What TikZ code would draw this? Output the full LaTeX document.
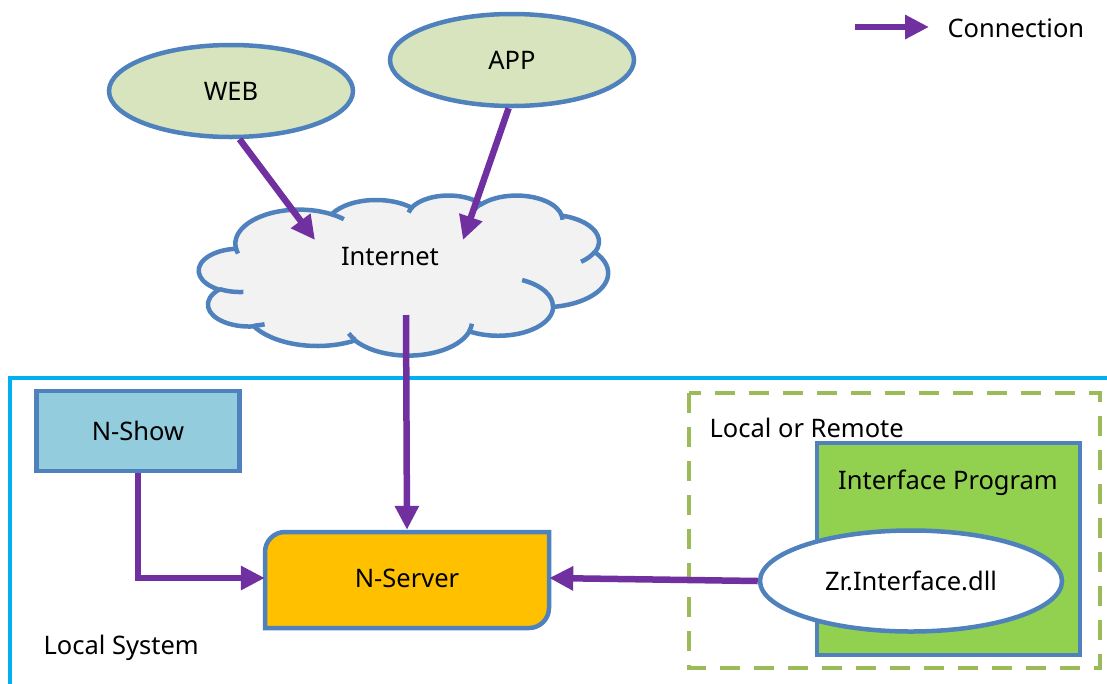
\documentclass[tikz,border=0pt]{standalone}
\usepackage{fontspec}
\setmainfont{Noto Sans}
\usetikzlibrary{arrows.meta,shapes.geometric}
\definecolor{bord}{RGB}{79,129,189}
\definecolor{conncol}{RGB}{112,48,160}
\definecolor{ovfill}{RGB}{215,228,189}
\definecolor{showfill}{RGB}{147,205,221}
\definecolor{srvfill}{RGB}{255,192,0}
\definecolor{iffill}{RGB}{146,208,80}
\definecolor{dashcol}{RGB}{155,187,89}
\definecolor{localcol}{RGB}{0,176,240}
\definecolor{cloudfill}{RGB}{242,242,242}
\tikzset{
  txt/.style={font=\fontsize{25.5}{30}\selectfont, text=black},
  conn/.style={draw=conncol, line width=6.5pt, -{Triangle[length=24pt,width=23pt]}},
  oval/.style={ellipse, draw=bord, line width=4.5pt, fill=ovfill, txt},
  boxshape/.style={rectangle, draw=bord, line width=4.5pt, txt},
  cloudline/.style={draw=bord, line width=4.5pt},
}
\begin{document}
\begin{tikzpicture}[x=1pt,y=-1pt]
\useasboundingbox (0,0) rectangle (1107,683);
% local system frame
\draw[localcol, line width=4pt] (10,378) rectangle (1115,695);
\node[txt, anchor=west] (localtxt) at (40,648) {Local System};
% local or remote dashed frame
\draw[dashcol, line width=4.5pt, dash pattern=on 20pt off 14pt] (689,393) rectangle (1100,668);
\node[txt, anchor=west] (lortxt) at (706,428) {Local or Remote};
% ellipses
\node[oval, minimum width=244pt, minimum height=92pt] (web) at (231,91) {WEB};
\node[oval, minimum width=244pt, minimum height=92pt] (app) at (512,60) {APP};
% cloud
\begin{scope}[shift={(199,195)}, x=0.9468pt, y=-0.3704pt]
\path[cloudline, fill=cloudfill] (39.00,143.70)
  arc[start angle=-187.74, end angle=-59.63, x radius=67.53, y radius=91.90]
  arc[start angle=-152.03, end angle=-45.46, x radius=53.33, y radius=72.67]
  arc[start angle=-153.49, end angle=-37.34, x radius=43.65, y radius=59.45]
  arc[start angle=-139.72, end angle=-10.21, x radius=48.57, y radius=65.95]
  arc[start angle=-74.77, end angle=23.21, x radius=53.33, y radius=72.73]
  arc[start angle=-37.52, end angle=81.86, x radius=67.75, y radius=92.20]
  arc[start angle=0.46, end angle=121.98, x radius=57.85, y radius=78.67]
  arc[start angle=16.84, end angle=146.25, x radius=67.52, y radius=92.15]
  arc[start angle=58.98, end angle=150.18, x radius=77.20, y radius=105.43]
  arc[start angle=83.31, end angle=223.10, x radius=43.60, y radius=59.18]
  arc[start angle=120.37, end angle=264.13, x radius=43.45, y radius=59.45]
  -- cycle;
\path[cloudline]
  (46.93,261.77) arc[start angle=85.55, end angle=120.36, x radius=43.45, y radius=59.45]
  (69.28,348.99) arc[start angle=68.23, end angle=83.31, x radius=43.60, y radius=59.18]
  (164.78,390.90) arc[start angle=146.25, end angle=158.47, x radius=67.52, y radius=92.15]
  (288.27,347.51) arc[start angle=4.74, end angle=16.84, x radius=67.52, y radius=92.15]
  (341.29,229.54) arc[start angle=-64.03, end angle=0.46, x radius=57.85, y radius=78.67]
  (417.98,153.54) arc[start angle=23.21, end angle=49.65, x radius=53.33, y radius=72.73]
  (383.24,54.26) arc[start angle=-10.21, end angle=0.82, x radius=48.57, y radius=65.95]
  (290.78,39.52) arc[start angle=-156.29, end angle=-139.72, x radius=48.57, y radius=65.95]
  (221.41,47.20) arc[start angle=-167.73, end angle=-153.49, x radius=43.65, y radius=59.45]
  (140.00,51.92) arc[start angle=-59.63, end angle=-45.73, x radius=67.53, y radius=91.90]
  (41.27,157.89) arc[start angle=163.19, end angle=172.26, x radius=67.53, y radius=91.90];
\end{scope}
\node[txt] (inet) at (390,257) {Internet};
\coordinate (cin1) at (315,240);
\coordinate (cin2) at (463,240);
\coordinate (cout) at (406,315);
% N-Show
\node[boxshape, fill=showfill, minimum width=203pt, minimum height=80pt] (nshow) at (138,431) {N-Show};
% N-Server
\draw[bord, line width=4.5pt, fill=srvfill] (265,628) -- (265,552) .. controls (265,541) and (274,532) .. (285,532) -- (549,532) -- (549,608) .. controls (549,619) and (540,628) .. (529,628) -- cycle;
\node[txt, minimum width=284pt, minimum height=96pt] (srv) at (407,578) {N-Server};
% interface program
\node[boxshape, fill=iffill, minimum width=263pt, minimum height=212pt] (ifp) at (948.5,549) {};
\node[txt] (iftxt) at (948,483) {Interface Program};
\node[oval, fill=white, minimum width=302pt, minimum height=101pt] (zr) at (911,581) {Zr.Interface.dll};
% connectors
\draw[conn] (web.-80) -- (cin1);
\draw[conn] (app.-94) -- (cin2);
\draw[conn] (cout) -- (srv.north);
\draw[conn] (nshow.south) |- (srv.west);
\draw[conn] (zr.west) -- (srv.east);
% legend
\coordinate (lga) at (855,27);
\coordinate (lgb) at (929,27);
\draw[conn] (lga) -- (lgb);
\node[txt, anchor=west] (lgtxt) at (944,28) {Connection};
\end{tikzpicture}
\end{document}
